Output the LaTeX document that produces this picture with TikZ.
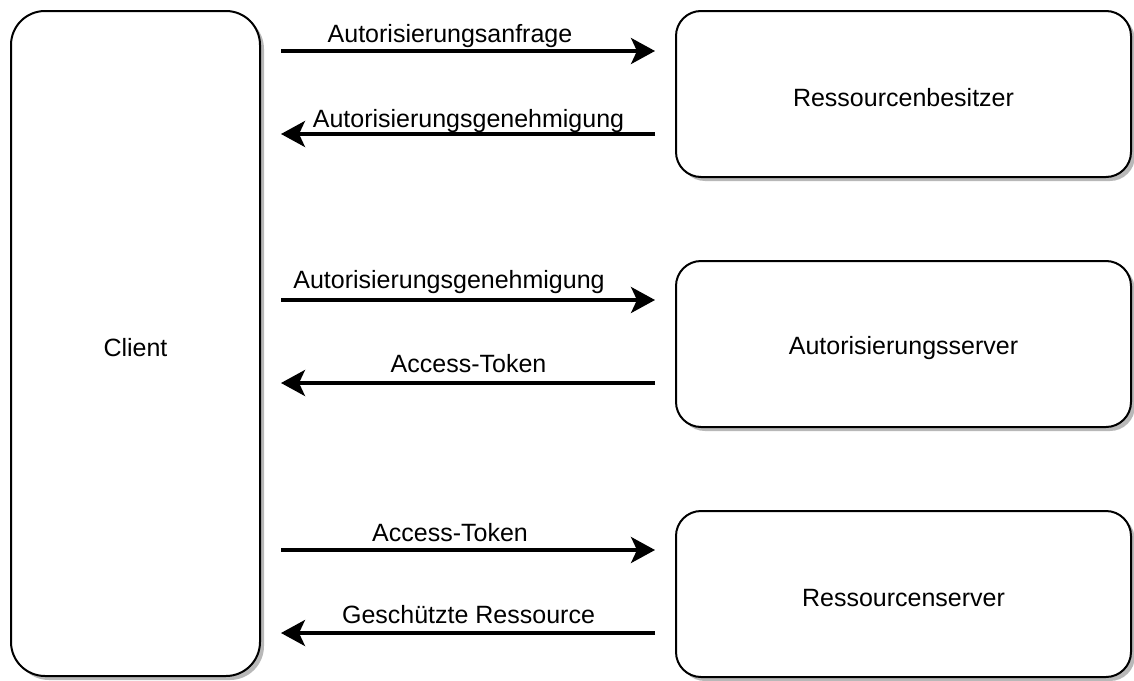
\documentclass[tikz,border=0pt]{standalone}
\usepackage{fontspec}
\setmainfont{Liberation Sans}
\usetikzlibrary{arrows.meta,shadows}

% box caption, set slightly below the geometric centre
\newcommand{\boxcaption}[1]{\raisebox{-2pt}[\height][\depth]{#1}}

\tikzset{
  party/.style={draw=black, line width=1pt, fill=white, rounded corners=12.5pt,
    outer sep=0pt, inner sep=0pt, minimum width=227.5pt, minimum height=83pt,
    drop shadow={shadow xshift=2pt, shadow yshift=-2pt, fill=black!28, opacity=1}},
  clientbox/.style={party, rounded corners=17pt, minimum width=124.5pt, minimum height=332.5pt},
  flow/.style={line width=1.7pt, -{Stealth[length=12pt, width=13pt, inset=3pt]}},
  msg/.style={anchor=base, inner sep=0pt},
}

\begin{document}
\begin{tikzpicture}[x=0.5pt, y=-0.5pt, font=\fontsize{12.5}{14}\selectfont]
  \useasboundingbox (0,0) rectangle (1134,680);

  % the three parties on the right and the client on the left
  \node[clientbox] (client) at (135.5,343.5) {\boxcaption{Client}};
  \node[party] (owner)  at (903.5,94)  {\boxcaption{Ressourcenbesitzer}};
  \node[party] (auth)   at (903.5,344) {\boxcaption{Autorisierungsserver}};
  \node[party] (res)    at (903.5,594) {\boxcaption{Ressourcenserver}};

  % heights of the message lines
  \coordinate (m1) at (0,51);
  \coordinate (m2) at (0,134);
  \coordinate (m3) at (0,300);
  \coordinate (m4) at (0,383);
  \coordinate (m5) at (0,550);
  \coordinate (m6) at (0,633);

  % messages
  \draw[flow] ([xshift=10.5pt]client.east |- m1) -- ([xshift=-10.5pt]owner.west |- m1);
  \draw[flow] ([xshift=-10.5pt]owner.west |- m2) -- ([xshift=10.5pt]client.east |- m2);
  \draw[flow] ([xshift=10.5pt]client.east |- m3) -- ([xshift=-10.5pt]auth.west |- m3);
  \draw[flow] ([xshift=-10.5pt]auth.west |- m4) -- ([xshift=10.5pt]client.east |- m4);
  \draw[flow] ([xshift=10.5pt]client.east |- m5) -- ([xshift=-10.5pt]res.west |- m5);
  \draw[flow] ([xshift=-10.5pt]res.west |- m6) -- ([xshift=10.5pt]client.east |- m6);

  % message labels
  \node[msg] (l1) at (450,42)    {Autorisierungsanfrage};
  \node[msg] (l2) at (468.5,127) {Autorisierungsgenehmigung};
  \node[msg] (l3) at (449,288)   {Autorisierungsgenehmigung};
  \node[msg] (l4) at (468.5,372) {Access-Token};
  \node[msg] (l5) at (450,541)   {Access-Token};
  \node[msg] (l6) at (468.5,623) {Geschützte Ressource};
\end{tikzpicture}
\end{document}
